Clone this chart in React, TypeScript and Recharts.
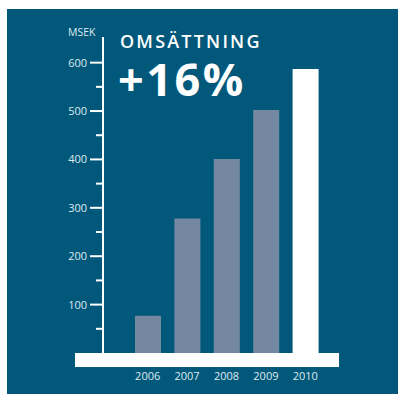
import { Bar, BarChart, Cell, ReferenceArea, XAxis, YAxis } from "recharts";

// Omsättning per år (MSEK)
const years = ["2006", "2007", "2008", "2009", "2010"];
const revenue = [77, 278, 401, 502, 587];
const yTicks = [50, 100, 150, 200, 250, 300, 350, 400, 450, 500, 550, 600];
const majorTicks = [100, 200, 300, 400, 500, 600];

const data = years.map((year, i) => ({ year, value: revenue[i] }));

const BG = "#01587a";
const BAR = "#7488a2";
const TEXT = "#dfe9ef";
const FONT = "'Open Sans', 'Noto Sans', sans-serif";

const YTick = ({ x, y, payload }: any) => {
  const major = majorTicks.includes(payload.value);
  return (
    <g>
      <line x1={x - (major ? 13 : 7)} x2={x} y1={y} y2={y} stroke="#fff" strokeWidth={2} />
      {major && (
        <text x={x - 16} y={y} dy={4} textAnchor="end" fill={TEXT} fontSize={11} fontFamily={FONT}>
          {payload.value}
        </text>
      )}
    </g>
  );
};

// white base plate under the bars, sticking out past the axis on the left
const BasePlate = ({ x, y, width, height }: any) => (
  <rect x={x - 53} y={y} width={width + 67} height={height} fill="#fff" />
);

export default function App() {
  return (
    <div style={{ position: "absolute", left: 0, top: 0, width: 398, height: 394, background: "#fff" }}>
      <div style={{ position: "absolute", left: 7, top: 9, width: 391, height: 385, background: BG }} />
      <div style={{ position: "absolute", left: 0, top: 0 }}>
        <BarChart width={398} height={394} data={data} margin={{ top: 37, right: 59, bottom: 10, left: 63 }}>
          <ReferenceArea y1={-29} y2={0} ifOverflow="visible" shape={<BasePlate />} />
          <XAxis
            dataKey="year"
            axisLine={false}
            tickLine={false}
            tickSize={0}
            tickMargin={19}
            height={31}
            padding={{ left: 25, right: 14 }}
            tick={{ fill: TEXT, fontSize: 11, fontFamily: FONT }}
          />
          <YAxis
            domain={[0, 653]}
            ticks={yTicks}
            width={40}
            tickSize={0}
            tickMargin={0}
            tickLine={false}
            axisLine={{ stroke: "#fff", strokeWidth: 2 }}
            tick={<YTick />}
            interval={0}
          />
          <Bar dataKey="value" barSize={26} isAnimationActive={false}>
            {data.map((d, i) => (
              <Cell key={d.year} fill={i === data.length - 1 ? "#fff" : BAR} />
            ))}
          </Bar>
        </BarChart>
      </div>
      <div style={{ position: "absolute", left: 68, top: 25, color: TEXT, fontSize: 10.5, fontFamily: FONT }}>MSEK</div>
      <div
        style={{
          position: "absolute",
          left: 120,
          top: 32,
          color: "#fff",
          fontSize: 18,
          fontWeight: 600,
          letterSpacing: 2.2,
          fontFamily: FONT,
          lineHeight: "18px",
          whiteSpace: "nowrap",
        }}
      >
        OMSÄTTNING
      </div>
      <div
        style={{
          position: "absolute",
          left: 118,
          top: 56,
          color: "#fff",
          fontSize: 45,
          fontWeight: 700,
          letterSpacing: 2.5,
          fontFamily: FONT,
          lineHeight: "45px",
          whiteSpace: "nowrap",
        }}
      >
        +16%
      </div>
    </div>
  );
}
